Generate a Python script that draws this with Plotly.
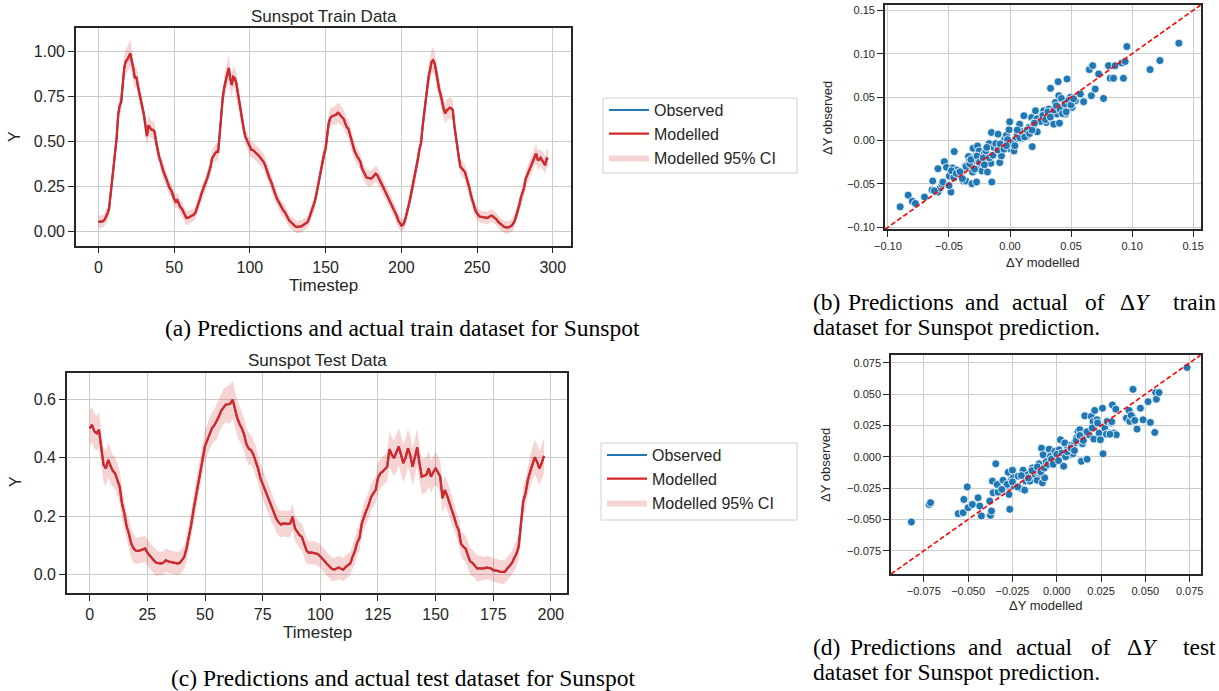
import plotly.graph_objects as go

W, H = 1219, 691

# ---------------- data ----------------
train_observed = [
    0.052, 0.053, 0.055, 0.056, 0.065, 0.080, 0.100, 0.127, 0.200, 0.290,
    0.370, 0.450, 0.520, 0.650, 0.700, 0.720, 0.800, 0.910, 0.946, 0.955,
    0.974, 0.990, 0.946, 0.910, 0.853, 0.860, 0.810, 0.770, 0.730, 0.695,
    0.650, 0.590, 0.530, 0.590, 0.580, 0.565, 0.565, 0.555, 0.500, 0.450,
    0.415, 0.390, 0.350, 0.330, 0.310, 0.285, 0.257, 0.240, 0.230, 0.200,
    0.180, 0.165, 0.173, 0.155, 0.135, 0.127, 0.108, 0.090, 0.075, 0.075,
    0.080, 0.084, 0.086, 0.093, 0.104, 0.127, 0.155, 0.180, 0.210, 0.230,
    0.250, 0.275, 0.300, 0.330, 0.360, 0.406, 0.425, 0.434, 0.443, 0.443,
    0.536, 0.650, 0.740, 0.800, 0.834, 0.870, 0.910, 0.853, 0.815, 0.860,
    0.853, 0.825, 0.770, 0.713, 0.657, 0.610, 0.565, 0.527, 0.508, 0.490,
    0.462, 0.453, 0.453, 0.443, 0.434, 0.428, 0.420, 0.410, 0.397, 0.387,
    0.370, 0.340, 0.313, 0.294, 0.276, 0.248, 0.220, 0.200, 0.180, 0.164,
    0.145, 0.127, 0.117, 0.108, 0.090, 0.075, 0.060, 0.052, 0.043, 0.034,
    0.028, 0.024, 0.024, 0.026, 0.028, 0.034, 0.040, 0.048, 0.050, 0.070,
    0.095, 0.115, 0.136, 0.170, 0.210, 0.257, 0.300, 0.350, 0.400, 0.430,
    0.460, 0.530, 0.600, 0.630, 0.640, 0.643, 0.645, 0.650, 0.660, 0.655,
    0.643, 0.635, 0.625, 0.600, 0.580, 0.572, 0.540, 0.500, 0.475, 0.450,
    0.430, 0.415, 0.400, 0.387, 0.350, 0.330, 0.312, 0.300, 0.297, 0.295,
    0.294, 0.300, 0.310, 0.320, 0.315, 0.300, 0.284, 0.265, 0.247, 0.228,
    0.210, 0.195, 0.182, 0.160, 0.140, 0.120, 0.100, 0.085, 0.060, 0.043,
    0.033, 0.035, 0.052, 0.080, 0.110, 0.150, 0.190, 0.230, 0.270, 0.310,
    0.360, 0.405, 0.460, 0.490, 0.580, 0.660, 0.740, 0.810, 0.860, 0.900,
    0.944, 0.953, 0.935, 0.890, 0.830, 0.790, 0.760, 0.710, 0.680, 0.656,
    0.675, 0.680, 0.688, 0.685, 0.675, 0.590, 0.520, 0.460, 0.410, 0.360,
    0.350, 0.340, 0.330, 0.300, 0.275, 0.240, 0.200, 0.170, 0.136, 0.115,
    0.100, 0.090, 0.080, 0.080, 0.080, 0.080, 0.076, 0.074, 0.080, 0.086,
    0.086, 0.080, 0.074, 0.065, 0.052, 0.045, 0.037, 0.030, 0.024, 0.022,
    0.020, 0.022, 0.028, 0.033, 0.045, 0.061, 0.090, 0.117, 0.150, 0.190,
    0.210, 0.238, 0.290, 0.310, 0.330, 0.350, 0.368, 0.390, 0.414, 0.433,
    0.400, 0.398, 0.409, 0.395, 0.387, 0.368, 0.405, 0.405,
]
train_modelled = train_observed  # modelled curve overlays observed almost exactly
train_ci_half = (
    [0.035] * 5 + [0.04, 0.04, 0.045, 0.05, 0.05]
    + [0.05, 0.05, 0.05, 0.055, 0.055, 0.055, 0.06, 0.065, 0.07, 0.07]
    + [0.075, 0.08, 0.07, 0.065, 0.06, 0.06, 0.055, 0.055, 0.05, 0.05]
    + [0.055, 0.06, 0.065, 0.06, 0.055, 0.05, 0.05, 0.05, 0.05, 0.045]
    + [0.045] * 5 + [0.04] * 5
    + [0.04] * 10
    + [0.035] * 5 + [0.04] * 5
    + [0.04, 0.04, 0.045, 0.045, 0.045, 0.045, 0.045, 0.045, 0.05, 0.05]
    + [0.05, 0.055, 0.06, 0.065, 0.065, 0.07, 0.075, 0.07, 0.065, 0.06]
    + [0.06, 0.06, 0.055, 0.055, 0.05, 0.05, 0.05, 0.045, 0.045, 0.045]
    + [0.045] * 10
    + [0.045] * 5 + [0.04] * 5
    + [0.04] * 5 + [0.035] * 5
    + [0.035] * 10
    + [0.035, 0.035, 0.04, 0.04, 0.04, 0.045, 0.045, 0.045, 0.045, 0.05]
    + [0.05, 0.05, 0.05, 0.05, 0.05, 0.05, 0.05, 0.055, 0.055, 0.055]
    + [0.05] * 10
    + [0.045] * 10
    + [0.045] * 10
    + [0.04] * 10
    + [0.035, 0.035, 0.04, 0.04, 0.04, 0.045, 0.045, 0.045, 0.045, 0.05]
    + [0.05, 0.05, 0.05, 0.05, 0.055, 0.055, 0.06, 0.06, 0.065, 0.065]
    + [0.07, 0.07, 0.065, 0.06, 0.06, 0.06, 0.055, 0.055, 0.055, 0.055]
    + [0.06, 0.06, 0.06, 0.06, 0.055, 0.055, 0.05, 0.05, 0.05, 0.045]
    + [0.045] * 5 + [0.04] * 5
    + [0.035] * 10
    + [0.035] * 10
    + [0.035, 0.035, 0.035, 0.035, 0.04, 0.04, 0.04, 0.04, 0.04, 0.045]
    + [0.045, 0.045, 0.045, 0.045, 0.05, 0.05, 0.05, 0.05, 0.05, 0.055]
    + [0.055, 0.05, 0.05, 0.05, 0.05, 0.05, 0.05, 0.05]
)

test_observed = [
    0.500, 0.512, 0.490, 0.483, 0.495, 0.443, 0.375, 0.363, 0.392, 0.372,
    0.355, 0.346, 0.325, 0.300, 0.243, 0.210, 0.165, 0.140, 0.106, 0.090,
    0.082, 0.081, 0.083, 0.086, 0.089, 0.075, 0.065, 0.055, 0.047, 0.040,
    0.038, 0.038, 0.041, 0.049, 0.045, 0.043, 0.041, 0.039, 0.038, 0.040,
    0.049, 0.060, 0.090, 0.129, 0.170, 0.220, 0.266, 0.310, 0.345, 0.398,
    0.440, 0.460, 0.483, 0.500, 0.510, 0.523, 0.540, 0.560, 0.573, 0.581,
    0.582, 0.585, 0.598, 0.563, 0.535, 0.515, 0.500, 0.478, 0.445, 0.430,
    0.426, 0.410, 0.390, 0.363, 0.330, 0.310, 0.290, 0.266, 0.250, 0.225,
    0.209, 0.190, 0.178, 0.171, 0.175, 0.173, 0.173, 0.175, 0.198, 0.158,
    0.145, 0.135, 0.129, 0.105, 0.083, 0.074, 0.076, 0.074, 0.072, 0.070,
    0.062, 0.055, 0.045, 0.035, 0.026, 0.020, 0.017, 0.021, 0.024, 0.020,
    0.017, 0.026, 0.032, 0.038, 0.061, 0.080, 0.110, 0.125, 0.175, 0.200,
    0.220, 0.238, 0.265, 0.278, 0.289, 0.330, 0.346, 0.352, 0.360, 0.369,
    0.429, 0.410, 0.398, 0.415, 0.438, 0.410, 0.381, 0.400, 0.432, 0.409,
    0.369, 0.400, 0.435, 0.381, 0.335, 0.338, 0.341, 0.363, 0.335, 0.350,
    0.363, 0.350, 0.335, 0.261, 0.289, 0.270, 0.249, 0.221, 0.198, 0.170,
    0.152, 0.106, 0.095, 0.089, 0.066, 0.045, 0.040, 0.032, 0.021, 0.021,
    0.021, 0.021, 0.024, 0.022, 0.021, 0.015, 0.014, 0.013, 0.009, 0.009,
    0.009, 0.020, 0.030, 0.038, 0.055, 0.070, 0.095, 0.163, 0.250, 0.278,
    0.323, 0.352, 0.380, 0.401, 0.386, 0.363, 0.381, 0.406,
]
test_modelled = test_observed
test_ci_half = (
    [0.06] * 10
    + [0.055] * 5 + [0.05] * 5
    + [0.045] * 10
    + [0.04] * 10
    + [0.04, 0.04, 0.045, 0.045, 0.05, 0.05, 0.05, 0.05, 0.05, 0.055]
    + [0.055] * 5 + [0.06] * 5
    + [0.065, 0.065, 0.065, 0.06, 0.06, 0.06, 0.055, 0.055, 0.055, 0.055]
    + [0.05] * 10
    + [0.045] * 10
    + [0.045] * 5 + [0.04] * 5
    + [0.04] * 10
    + [0.04] * 5 + [0.045] * 5
    + [0.045] * 5 + [0.05] * 5
    + [0.06, 0.06, 0.06, 0.065, 0.065, 0.065, 0.065, 0.065, 0.065, 0.065]
    + [0.065, 0.065, 0.065, 0.06, 0.06, 0.06, 0.06, 0.06, 0.055, 0.055]
    + [0.055, 0.055, 0.055, 0.05, 0.05, 0.05, 0.05, 0.05, 0.045, 0.045]
    + [0.045] * 10
    + [0.04] * 10
    + [0.04, 0.04, 0.04, 0.04, 0.045, 0.045, 0.045, 0.05, 0.05, 0.05]
    + [0.05, 0.055, 0.055, 0.06, 0.06, 0.06, 0.06, 0.06]
)

train_dy_modelled = [
    -0.090, -0.0834, -0.080, -0.0775, -0.070, -0.0639, -0.0633, -0.059, -0.059, -0.0573,
    -0.0557, -0.0538, -0.052, -0.0497, -0.0484, -0.047, -0.0457, -0.0448, -0.0435, -0.0389,
    -0.0383, -0.0367, -0.0361, -0.034, -0.0334, -0.0318, -0.0312, -0.0307, -0.0302, -0.0293,
    -0.028, -0.0274, -0.0266, -0.0258, -0.0253, -0.0239, -0.023, -0.0212, -0.0198, -0.0185,
    -0.0171, -0.0157, -0.0152, -0.0149, -0.013, -0.0117, -0.0098, -0.0084, -0.007, -0.0057,
    -0.0043, -0.0029, -0.0008, -0.0003, 0.0005, 0.0033, 0.0046, 0.006, 0.0079, 0.0095,
    0.0114, 0.0128, 0.0141, 0.0155, 0.0177, 0.0182, 0.0196, 0.0209, 0.0223, 0.0236,
    0.0258, 0.0277, 0.0296, 0.0304, 0.0318, 0.0332, 0.0345, 0.0359, 0.0372, 0.0386,
    0.0394, 0.040, 0.0405, 0.0421, 0.044, 0.0454, 0.0467, 0.0476, 0.0495, 0.0508,
    0.0535, 0.0576, 0.0603, 0.065, 0.0666, 0.0677, 0.0698, 0.0726, 0.0766, 0.0807,
    0.0821, 0.0848, 0.0861, 0.0916, 0.0929, 0.0943, 0.0957, 0.1147, 0.1228, 0.1383,
    -0.048, -0.046, -0.044, -0.041, -0.036, -0.033, -0.032, -0.029, -0.027, -0.025,
    -0.022, -0.021, -0.019, -0.017, -0.014, -0.010, -0.008, -0.005, -0.002, 0.002,
    0.004, 0.008, 0.010, 0.012, 0.014, 0.016, 0.019, 0.022, 0.025, 0.027,
    0.029, 0.031, 0.033, 0.036, 0.038, 0.041, 0.043, 0.045, 0.046, 0.048,
    0.050, 0.052, -0.062, -0.055, -0.050, -0.039, 0.018, 0.006, -0.003, 0.020,
]
train_dy_observed = [
    -0.0765, -0.063, -0.070, -0.0726, -0.0653, -0.057, -0.0468, -0.0325, -0.0595, -0.055,
    -0.0506, -0.0244, -0.031, -0.041, -0.0595, -0.0317, -0.0128, -0.040, -0.034, -0.0352,
    -0.0468, -0.0294, -0.0468, -0.0186, -0.0236, -0.0286, -0.0498, -0.0363, -0.0090, -0.0228,
    -0.0178, -0.0479, -0.0063, -0.0313, -0.0121, -0.0255, -0.0352, -0.0151, -0.0121, -0.0363,
    -0.0036, -0.0263, 0.0092, -0.0479, -0.0082, -0.0036, 0.0073, -0.0255, -0.0178, -0.0063,
    0.0015, 0.0061, 0.0123, 0.0215, -0.0098, -0.0121, 0.0015, 0.0073, 0.0188, 0.0023,
    0.0285, 0.0111, 0.0054, 0.015, 0.0265, -0.0071, 0.0207, 0.0343, 0.0100, 0.0246,
    0.0285, 0.0343, 0.0207, 0.0304, 0.0362, 0.0601, 0.0331, 0.0188, 0.0439, 0.0304,
    0.0678, 0.0516, 0.0200, 0.0485, 0.040, 0.0304, 0.0709, 0.042, 0.0497, 0.0381,
    0.0458, 0.0535, 0.0447, 0.0817, 0.0516, 0.0863, 0.0593, 0.0767, 0.0485, 0.0863,
    0.0717, 0.0717, 0.0863, 0.0894, 0.0717, 0.0910, 0.1083, 0.0817, 0.0921, 0.1122,
    -0.035, -0.043, -0.038, -0.036, -0.030, -0.027, -0.022, -0.033, -0.018, -0.025,
    -0.020, -0.028, -0.008, -0.020, -0.017, -0.011, -0.004, -0.010, 0.001, -0.004,
    -0.006, 0.003, 0.010, 0.004, 0.012, 0.008, 0.017, 0.025, 0.022, 0.029,
    0.024, 0.033, 0.027, 0.035, 0.040, 0.036, 0.031, 0.042, 0.033, 0.046,
    0.041, 0.048, -0.058, -0.048, -0.052, -0.044, 0.012, 0.012, -0.006, 0.020,
]

test_dy_modelled = [
    -0.082, -0.072, -0.0712, -0.0556, -0.0528, -0.0524, -0.0505, -0.050, -0.0476, -0.0444,
    -0.0434, -0.0425, -0.0378, -0.0374, -0.0368, -0.0363, -0.0359, -0.0344, -0.0336, -0.0331,
    -0.0303, -0.0284, -0.0274, -0.0269, -0.0265, -0.0256, -0.025, -0.0246, -0.0242, -0.0218,
    -0.0199, -0.019, -0.0181, -0.0175, -0.0162, -0.0152, -0.0137, -0.013, -0.0118, -0.0111,
    -0.010, -0.0092, -0.0086, -0.0081, -0.0077, -0.0068, -0.0058, -0.0049, -0.0043, -0.0036,
    -0.0024, -0.0011, 0.0002, 0.0013, 0.0021, 0.0028, 0.0039, 0.0045, 0.0058, 0.0073,
    0.0083, 0.0092, 0.0101, 0.0111, 0.012, 0.013, 0.0139, 0.0145, 0.0148, 0.0158,
    0.0171, 0.0182, 0.0195, 0.0205, 0.0209, 0.0214, 0.0227, 0.0239, 0.0246, 0.0258,
    0.0261, 0.0271, 0.0284, 0.0295, 0.0308, 0.0314, 0.0321, 0.0333, 0.0336, 0.0393,
    0.0408, 0.0412, 0.0427, 0.043, 0.0453, 0.0472, 0.0487, 0.0515, 0.0528, 0.0553,
    0.0558, 0.0562, 0.0577, 0.0735,
    -0.028, -0.025, -0.022, -0.016, -0.014, -0.011, -0.009, -0.007, -0.006, -0.005,
    -0.003, -0.002, 0.000, 0.001, 0.003, 0.005, 0.006, 0.008, 0.010, 0.011,
    0.013, 0.015, 0.017, 0.020, 0.023, 0.028, 0.030, 0.031, 0.042, 0.044,
    -0.031, -0.020,
]
test_dy_observed = [
    -0.052, -0.038, -0.0366, -0.0454, -0.0446, -0.034, -0.024, -0.0406, -0.038, -0.0327,
    -0.0393, -0.0472, -0.0353, -0.0467, -0.0433, -0.0194, -0.0287, -0.0056, -0.0221, -0.0282,
    -0.0187, -0.0234, -0.0124, -0.0300, -0.0419, -0.0181, -0.0107, -0.0168, -0.0234, -0.0155,
    -0.0255, -0.0107, -0.0266, -0.0194, -0.0142, -0.0194, -0.0089, -0.0142, -0.0115, -0.0187,
    -0.0056, -0.0134, 0.0069, -0.0208, 0.0016, -0.0168, -0.0075, -0.0036, 0.0061, 0.0003,
    -0.0050, 0.0044, -0.0010, 0.0056, 0.0136, 0.0016, -0.0075, 0.0110, 0.0056, 0.0016,
    0.0093, 0.0024, 0.0110, 0.0150, 0.0202, 0.0216, -0.0036, 0.0105, 0.0176, 0.0327,
    -0.0019, 0.0176, 0.0322, 0.0282, 0.0141, 0.0370, 0.0296, 0.0190, 0.0136, 0.0388,
    0.0024, 0.0229, 0.0282, 0.0190, 0.0269, 0.0414, 0.0190, 0.0380, 0.0176, 0.0308,
    0.0370, 0.0282, 0.0322, 0.0538, 0.0221, 0.0388, 0.0295, 0.0440, 0.0274, 0.0194,
    0.0512, 0.0460, 0.0512, 0.0713,
    -0.022, -0.020, -0.024, -0.017, -0.011, -0.008, -0.012, -0.009, -0.004, -0.006,
    -0.002, -0.006, 0.002, -0.003, 0.003, 0.000, 0.004, 0.007, 0.005, 0.013,
    0.017, 0.013, 0.020, 0.023, 0.027, 0.018, 0.018, 0.028, 0.033, 0.029,
    -0.026, -0.015,
]

train_t = list(range(len(train_observed)))
test_t = list(range(len(test_observed)))

train_xticks = [0, 50, 100, 150, 200, 250, 300]
train_yticks = [0.0, 0.25, 0.5, 0.75, 1.0]
test_xticks = [0, 25, 50, 75, 100, 125, 150, 175, 200]
test_yticks = [0.0, 0.2, 0.4, 0.6]
train_scatter_ticks = [-0.10, -0.05, 0.0, 0.05, 0.10, 0.15]
test_scatter_ticks = [-0.075, -0.05, -0.025, 0.0, 0.025, 0.05, 0.075]

# ---------------- helpers ----------------
def px(x):
    return x / W


def py(y):
    return 1 - y / H


BLUE = "#1f77b4"
RED = "#d62728"
BAND = "rgba(214,39,40,0.2)"
INK = "#262626"
SANS = "Liberation Sans"
SERIF = "Liberation Serif"

fig = go.Figure()


def add_series(t, obs, mod, half, xa, ya, legend):
    upper = [m + h for m, h in zip(mod, half)]
    lower = [m - h for m, h in zip(mod, half)]
    fig.add_trace(go.Scatter(
        x=t + t[::-1], y=upper + lower[::-1], fill="toself", fillcolor=BAND,
        line=dict(width=0, color=BAND), mode="lines", name="Modelled 95% CI",
        xaxis=xa, yaxis=ya, legend=legend, legendrank=3, hoverinfo="skip"))
    fig.add_trace(go.Scatter(
        x=t, y=obs, mode="lines", line=dict(color=BLUE, width=2),
        name="Observed", xaxis=xa, yaxis=ya, legend=legend, legendrank=1))
    fig.add_trace(go.Scatter(
        x=t, y=mod, mode="lines", line=dict(color=RED, width=2.3),
        name="Modelled", xaxis=xa, yaxis=ya, legend=legend, legendrank=2))


add_series(train_t, train_observed, train_modelled, train_ci_half, "x", "y", "legend")
add_series(test_t, test_observed, test_modelled, test_ci_half, "x3", "y3", "legend2")


def add_scatter(xs, ys, lo, hi, xa, ya):
    fig.add_trace(go.Scatter(
        x=xs, y=ys, mode="markers",
        marker=dict(color=BLUE, size=8, line=dict(color="white", width=0.8)),
        xaxis=xa, yaxis=ya, showlegend=False))
    fig.add_trace(go.Scatter(
        x=[lo, hi], y=[lo, hi], mode="lines",
        line=dict(color="red", width=1.6, dash="5px,2.5px"),
        xaxis=xa, yaxis=ya, showlegend=False))


TRAIN_LIM = (-0.1024, 0.1562)
TEST_LIM = (-0.0935, 0.0812)
add_scatter(train_dy_modelled, train_dy_observed, *TRAIN_LIM, "x2", "y2")
add_scatter(test_dy_modelled, test_dy_observed, *TEST_LIM, "x4", "y4")


def axis(domain, rng, tickvals, fmt, size, anchor):
    return dict(
        domain=domain, range=list(rng), tickvals=tickvals, tickformat=fmt,
        anchor=anchor, showline=True, mirror=True, linecolor=INK, linewidth=1.6,
        ticks="outside", ticklen=6, tickwidth=1.4, tickcolor=INK,
        showgrid=True, gridcolor="#cccccc", gridwidth=1, zeroline=False,
        tickangle=0, tickfont=dict(family=SANS, size=size, color=INK),
    )


legend_style = dict(
    xanchor="left", yanchor="top", bgcolor="rgba(0,0,0,0)", borderwidth=0,
    font=dict(family=SANS, size=16, color=INK),
    traceorder="normal", itemwidth=40,
)

fig.update_layout(
    width=W, height=H, margin=dict(l=0, r=0, t=0, b=0, autoexpand=False),
    paper_bgcolor="white", plot_bgcolor="white", showlegend=True,
    xaxis=axis([px(76), px(570.7)], (-14.85, 311.85), train_xticks, "d", 16, "y"),
    yaxis=axis([py(245.5), py(27.5)], (-0.079, 1.135), train_yticks, ".2f", 16, "x"),
    xaxis3=axis([px(67), px(566.7)], (-9.85, 206.85), test_xticks, "d", 16, "y3"),
    yaxis3=axis([py(593), py(372.5)], (-0.063, 0.691), test_yticks, ".1f", 16, "x3"),
    xaxis2=axis([px(885), px(1200.7)], TRAIN_LIM, train_scatter_ticks, ".2f", 11, "y2"),
    yaxis2=axis([py(229.3), py(5)], TRAIN_LIM, train_scatter_ticks, ".2f", 11, "x2"),
    xaxis4=axis([px(891), px(1200.7)], TEST_LIM, test_scatter_ticks, ".3f", 11, "y4"),
    yaxis4=axis([py(574), py(355)], TEST_LIM, test_scatter_ticks, ".3f", 11, "x4"),
    legend=dict(x=px(604), y=py(93), **legend_style),
    legend2=dict(x=px(602), y=py(438), **legend_style),
    shapes=[
        dict(type="rect", xref="paper", yref="paper", x0=px(603), x1=px(797),
             y0=py(173), y1=py(98), line=dict(color="#d0d0d0", width=1),
             fillcolor="white", layer="below"),
        dict(type="rect", xref="paper", yref="paper", x0=px(601), x1=px(797),
             y0=py(520), y1=py(443), line=dict(color="#d0d0d0", width=1),
             fillcolor="white", layer="below"),
    ],
)

ann = []


def label(text, x, y, size=17, angle=0, family=SANS, color=INK, xanchor="center"):
    ann.append(dict(text=text, x=px(x), y=py(y), xref="paper", yref="paper",
                    showarrow=False, textangle=angle, xanchor=xanchor, yanchor="middle",
                    font=dict(family=family, size=size, color=color)))


# titles and axis labels
label("Sunspot Train Data", 323.5, 16)
label("Sunspot Test Data", 317, 360)
label("Timestep", 323.5, 285)
label("Timestep", 317, 632)
label("Y", 15, 137, size=16, angle=-90)
label("Y", 16, 482, size=16, angle=-90)
label("ΔY observed", 827, 118, size=13, angle=-90)
label("ΔY modelled", 1043, 262, size=13)
label("ΔY observed", 825, 465, size=13, angle=-90)
label("ΔY modelled", 1046, 605, size=13)

# captions
CAP = 23.5
label("(a) Predictions and actual train dataset for Sunspot", 402.5, 328, size=CAP, family=SERIF, color="black")
label("(c) Predictions and actual test dataset for Sunspot", 402.5, 678, size=CAP, family=SERIF, color="black")

for word, x in [("(b)", 811), ("Predictions", 846), ("and", 963), ("actual", 1010),
                ("of", 1083), ("Δ<i>Y</i>", 1118)]:
    label(word, x, 302, size=CAP, family=SERIF, color="black", xanchor="left")
label("train", 1218, 302, size=CAP, family=SERIF, color="black", xanchor="right")
label("dataset for Sunspot prediction.", 811, 327, size=CAP, family=SERIF, color="black", xanchor="left")

for word, x in [("(d)", 811), ("Predictions", 848), ("and", 966), ("actual", 1014),
                ("of", 1089), ("Δ<i>Y</i>", 1125)]:
    label(word, x, 647, size=CAP, family=SERIF, color="black", xanchor="left")
label("test", 1218, 647, size=CAP, family=SERIF, color="black", xanchor="right")
label("dataset for Sunspot prediction.", 811, 672, size=CAP, family=SERIF, color="black", xanchor="left")

fig.update_layout(annotations=ann)
fig.write_html(
    "out.html",
    config={"displayModeBar": False},
    post_script="document.body.style.margin='0';document.body.style.padding='0';"
                "document.body.style.overflow='hidden';",
)
